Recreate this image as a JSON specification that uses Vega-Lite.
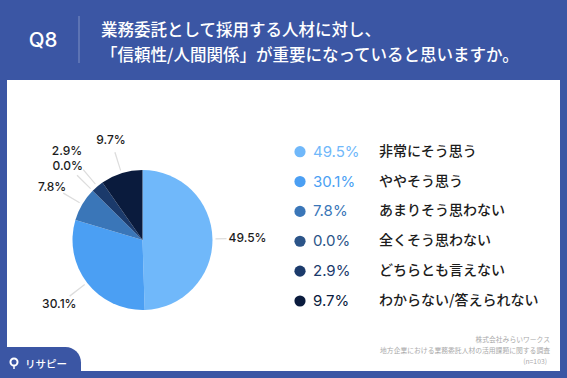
{
"$schema":"https://vega.github.io/schema/vega-lite/v6.json",
"width":553,"height":291,
"autosize":{"type":"none"},
"padding":{"left":7,"top":80,"right":7,"bottom":7},
"background":"#3b56a4",
"view":{"fill":"#ffffff","stroke":null},
"data":{"values":[
{"rank":1,"label":"非常にそう思う","pct":49.5},
{"rank":2,"label":"ややそう思う","pct":30.1},
{"rank":3,"label":"あまりそう思わない","pct":7.8},
{"rank":4,"label":"全くそう思わない","pct":0.0},
{"rank":5,"label":"どちらとも言えない","pct":2.9},
{"rank":6,"label":"わからない/答えられない","pct":9.7}
]},
"transform":[
{"stack":"pct","sort":[{"field":"rank"}],"as":["s0","s1"]},
{"calculate":"(datum.s0+datum.s1)/2","as":"mid"},
{"calculate":"datum.mid-0.12","as":"midLo"},
{"calculate":"datum.mid+0.12","as":"midHi"},
{"calculate":"format(datum.pct,'.1f')+'%'","as":"lab"}
],
"encoding":{
"color":{"field":"label","type":"nominal","sort":null,"legend":null,"scale":{"domain":["非常にそう思う","ややそう思う","あまりそう思わない","全くそう思わない","どちらとも言えない","わからない/答えられない"],"range":["#70b8fa","#4b9ff3","#3a76b8","#2b5488","#1b3a6b","#0a1b3d"]}}
},
"layer":[
{"transform":[{"filter":"datum.rank!=1"}],"mark":{"type":"arc","radius":73,"radius2":92},
 "encoding":{"color":{"value":"#dddddd"},"x":{"value":135.5},"y":{"value":160},
 "theta":{"field":"midLo","type":"quantitative","stack":null,"scale":{"domain":[0,100],"range":[0,6.2832]}},"theta2":{"field":"midHi"}}},
{"transform":[{"filter":"datum.rank==1"}],"mark":{"type":"arc","radius":73,"radius2":84},
 "encoding":{"color":{"value":"#dddddd"},"x":{"value":135.5},"y":{"value":160},
 "theta":{"field":"midLo","type":"quantitative","stack":null,"scale":{"domain":[0,100],"range":[0,6.2832]}},"theta2":{"field":"midHi"}}},
{"mark":{"type":"arc","radius":70},
 "encoding":{"x":{"value":135.5},"y":{"value":160},
 "theta":{"field":"s0","type":"quantitative","stack":null,"scale":{"domain":[0,100],"range":[0,6.2832]}},"theta2":{"field":"s1"}}},
{"transform":[{"filter":"datum.rank!=5"}],"mark":{"type":"text","radius":105,"font":"Inter","fontSize":12,"fontWeight":500,"align":"center","baseline":"middle"},
 "encoding":{"color":{"value":"#1c1c1c"},"x":{"value":135.5},"y":{"value":160},"text":{"field":"lab"},
 "theta":{"field":"mid","type":"quantitative","stack":null,"scale":{"domain":[0,100],"range":[0,6.2832]}}}},
{"transform":[{"filter":"datum.rank==5"}],"mark":{"type":"text","radius":117,"font":"Inter","fontSize":12,"fontWeight":500,"align":"center","baseline":"middle"},
 "encoding":{"color":{"value":"#1c1c1c"},"x":{"value":135.5},"y":{"value":160},"text":{"field":"lab"},
 "theta":{"field":"mid","type":"quantitative","stack":null,"scale":{"domain":[0,100],"range":[0,6.2832]}}}},
{"mark":{"type":"point","shape":"circle","filled":true,"size":125,"opacity":1},
 "encoding":{"x":{"value":293},"y":{"field":"label","type":"nominal","sort":null,"axis":null,"scale":{"type":"point","padding":0,"range":[71.7,221]}}}},
{"mark":{"type":"text","align":"left","baseline":"middle","font":"Inter","fontSize":15,"fontWeight":400},
 "encoding":{"x":{"value":306},"y":{"field":"label","type":"nominal","sort":null,"axis":null},"text":{"field":"lab"}}},
{"mark":{"type":"text","align":"left","baseline":"middle","font":"Noto Sans CJK JP","fontSize":14,"fontWeight":500},
 "encoding":{"color":{"value":"#1c1c1c"},"x":{"value":372},"y":{"field":"label","type":"nominal","sort":null,"axis":null},"text":{"field":"label"}}},
{"data":{"values":[{"t":"Q8"}]},"mark":{"type":"text","align":"center","baseline":"middle","font":"Inter","fontSize":20.5,"fontWeight":500},
 "encoding":{"color":{"value":"#ffffff"},"x":{"value":36},"y":{"value":-39},"text":{"field":"t"}}},
{"data":{"values":[{"t":["業務委託として採用する人材に対し、","「信頼性/人間関係」が重要になっていると思いますか。"]}]},"mark":{"type":"text","align":"left","baseline":"top","font":"Noto Sans CJK JP","fontSize":16.5,"fontWeight":500,"lineHeight":24.5},
 "encoding":{"color":{"value":"#ffffff"},"x":{"value":94},"y":{"value":-57},"text":{"field":"t"}}},
{"data":{"values":[{}]},"mark":{"type":"rule","strokeWidth":1},
 "encoding":{"color":{"value":"#7f90c4"},"x":{"value":72},"y":{"value":-64},"y2":{"value":-17}}},
{"data":{"values":[{"t":"株式会社みらいワークス"}]},"mark":{"type":"text","align":"right","baseline":"middle","font":"Noto Sans CJK JP","fontSize":6.8},
 "encoding":{"color":{"value":"#aaaaaa"},"x":{"value":543},"y":{"value":260},"text":{"field":"t"}}},
{"data":{"values":[{"t":"地方企業における業務委託人材の活用課題に関する調査"}]},"mark":{"type":"text","align":"right","baseline":"middle","font":"Noto Sans CJK JP","fontSize":6.8},
 "encoding":{"color":{"value":"#aaaaaa"},"x":{"value":543},"y":{"value":271},"text":{"field":"t"}}},
{"data":{"values":[{"t":"(n=103)"}]},"mark":{"type":"text","align":"right","baseline":"middle","font":"Noto Sans CJK JP","fontSize":6.8},
 "encoding":{"color":{"value":"#aaaaaa"},"x":{"value":540},"y":{"value":282},"text":{"field":"t"}}},
{"data":{"values":[{}]},"mark":{"type":"rect","cornerRadiusTopRight":20},
 "encoding":{"color":{"value":"#3b56a4"},"x":{"value":-7},"x2":{"value":74},"y":{"value":267},"y2":{"value":298}}},
{"data":{"values":[{}]},"mark":{"type":"rule","strokeWidth":1.5},
 "encoding":{"color":{"value":"#ffffff"},"x":{"value":7},"y":{"value":285},"y2":{"value":289}}},
{"data":{"values":[{}]},"mark":{"type":"point","shape":"circle","filled":false,"size":50,"strokeWidth":2,"opacity":1},
 "encoding":{"color":{"value":"#ffffff"},"x":{"value":7},"y":{"value":282}}},
{"data":{"values":[{"t":"リサピー"}]},"mark":{"type":"text","align":"left","baseline":"middle","font":"Noto Sans CJK JP","fontSize":10.5,"fontWeight":500},
 "encoding":{"color":{"value":"#ffffff"},"x":{"value":18},"y":{"value":285},"text":{"field":"t"}}}
]
}
